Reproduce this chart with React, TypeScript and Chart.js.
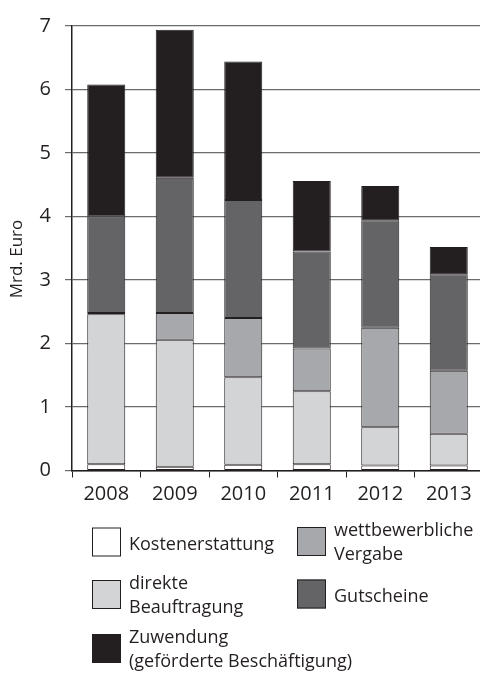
import React, { useEffect, useRef } from "react";
import { Chart, registerables } from "chart.js";

Chart.register(...registerables);

const years = ["2008", "2009", "2010", "2011", "2012", "2013"];
const kostenerstattung = [0.1, 0.06, 0.09, 0.1, 0.08, 0.08];
const direkteBeauftragung = [2.36, 2.0, 1.38, 1.15, 0.6, 0.5];
const wettbewerblicheVergabe = [0.02, 0.42, 0.93, 0.67, 1.57, 0.99];
const gutscheine = [1.52, 2.13, 1.86, 1.53, 1.69, 1.52];
const zuwendung = [2.08, 2.33, 2.18, 1.11, 0.54, 0.43];
const yTicks = [0, 1, 2, 3, 4, 5, 6, 7];
const yTitle = "Mrd. Euro";

const INK = "#231f20";
const FONT = "'Open Sans', 'Noto Sans', sans-serif";

const seriesDefs = [
  { label: "Kostenerstattung", data: kostenerstattung, color: "#ffffff" },
  { label: "direkte Beauftragung", data: direkteBeauftragung, color: "#d3d4d6" },
  { label: "wettbewerbliche Vergabe", data: wettbewerblicheVergabe, color: "#a7a8ab" },
  { label: "Gutscheine", data: gutscheine, color: "#646466" },
  { label: "Zuwendung (geförderte Beschäftigung)", data: zuwendung, color: "#231f20" },
];

const legendItems = [
  { lines: ["Kostenerstattung"], color: "#ffffff", left: 92, cy: 542 },
  { lines: ["wettbewerbliche", "Vergabe"], color: "#a7a8ab", left: 297, cy: 541 },
  { lines: ["direkte", "Beauftragung"], color: "#d3d4d6", left: 92, cy: 594 },
  { lines: ["Gutscheine"], color: "#646466", left: 297, cy: 594 },
  { lines: ["Zuwendung", "(geförderte Beschäftigung)"], color: "#231f20", left: 92, cy: 648 },
];

const yTitlePlugin = {
  id: "yTitleOffset",
  afterDraw(chart: any) {
    const ctx = chart.ctx;
    ctx.save();
    ctx.translate(17, 259);
    ctx.rotate(-Math.PI / 2);
    ctx.fillStyle = INK;
    ctx.font = `17px ${FONT}`;
    ctx.textAlign = "center";
    ctx.textBaseline = "middle";
    ctx.fillText(yTitle, 0, 0);
    ctx.restore();
  },
};

export default function App() {
  const ref = useRef<HTMLCanvasElement | null>(null);

  useEffect(() => {
    document.body.style.margin = "0";
    const canvas = ref.current;
    if (!canvas) return;
    const chart = new Chart(canvas, {
      type: "bar",
      data: {
        labels: years,
        datasets: seriesDefs.map((s) => ({
          label: s.label,
          data: s.data,
          backgroundColor: s.color,
          borderColor: INK,
          borderWidth: 1,
          borderSkipped: false,
          categoryPercentage: 1,
          barPercentage: 0.555,
        })),
      },
      plugins: [yTitlePlugin],
      options: {
        responsive: false,
        animation: false,
        layout: { padding: { top: 20, right: 0, bottom: 164.5, left: 0 } },
        plugins: { legend: { display: false }, tooltip: { enabled: false } },
        scales: {
          x: {
            stacked: true,
            afterFit: (s: any) => {
              s.height = 40;
            },
            grid: {
              display: true,
              drawOnChartArea: false,
              drawTicks: true,
              tickLength: 7,
              color: INK,
              lineWidth: 1,
              offset: true,
            },
            border: { display: true, color: INK, width: 1.5 },
            ticks: {
              color: INK,
              padding: 5,
              font: { family: FONT, size: 20 },
            },
          },
          y: {
            stacked: true,
            min: 0,
            max: 7,
            afterFit: (s: any) => {
              s.width = 72;
            },
            afterBuildTicks: (s: any) => {
              s.ticks = yTicks.map((v) => ({ value: v }));
            },
            grid: {
              color: "#6a6b6d",
              lineWidth: 1.2,
              drawTicks: true,
              tickLength: 7,
            },
            border: { display: true, color: INK, width: 1.5 },
            ticks: {
              color: INK,
              padding: 14,
              font: { family: FONT, size: 20 },
            },
            title: { display: false },
          },
        },
      },
    });
    return () => chart.destroy();
  }, []);

  return (
    <div
      style={{
        position: "absolute",
        left: 0,
        top: 0,
        width: 480,
        height: 675,
        overflow: "hidden",
        background: "#ffffff",
        fontFamily: FONT,
        color: INK,
      }}
    >
      <canvas ref={ref} width={483} height={675} style={{ display: "block" }} />
      {legendItems.map((it, i) => (
        <div
          key={i}
          style={{
            position: "absolute",
            left: it.left,
            top: it.cy,
            transform: "translateY(-50%)",
            display: "flex",
            alignItems: "center",
          }}
        >
          <div
            style={{
              width: 27,
              height: 27,
              background: it.color,
              border: `1px solid ${INK}`,
              marginRight: 8,
              flex: "none",
            }}
          />
          <div style={{ fontSize: 18, lineHeight: "24px", whiteSpace: "nowrap" }}>
            {it.lines.map((l, j) => (
              <div key={j}>{l}</div>
            ))}
          </div>
        </div>
      ))}
    </div>
  );
}
